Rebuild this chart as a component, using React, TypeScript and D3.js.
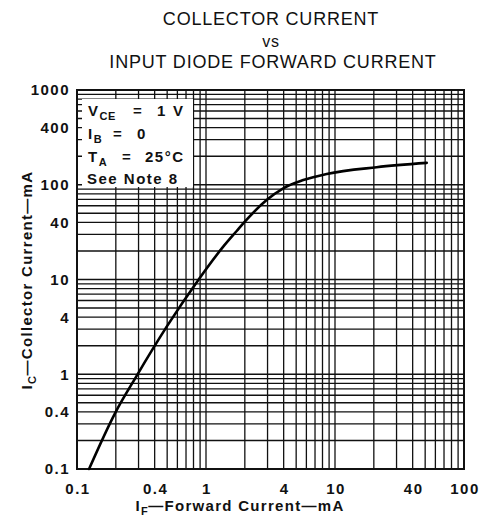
import React from 'react';
import * as d3 from 'd3';

const forwardCurrent = [0.124, 0.197, 0.287, 0.496, 0.872, 1.36, 1.73, 2.0, 2.95, 3.97, 5.68, 8.62, 21, 51.4];
const collectorCurrent = [0.1, 0.387, 0.94, 3.18, 9.9, 22.2, 32.5, 40.8, 69, 91.8, 112, 130, 153, 170];
const xTickLabels = [0.1, 0.4, 1, 4, 10, 40, 100];
const yTickLabels = [0.1, 0.4, 1, 4, 10, 40, 100, 400, 1000];
const titleLines = ['COLLECTOR CURRENT', 'vs', 'INPUT DIODE FORWARD CURRENT'];

function logGrid(min: number, max: number): number[] {
  const out: number[] = [];
  const e0 = Math.round(Math.log10(min));
  const e1 = Math.round(Math.log10(max));
  for (let e = e0; e < e1; e++) {
    for (let k = 1; k <= 9; k++) out.push(+(k * Math.pow(10, e)).toPrecision(6));
  }
  out.push(max);
  return out;
}

const FONT = '"Liberation Sans", Arial, Helvetica, sans-serif';

export default function App() {
  const W = 483, H = 523;
  const x = d3.scaleLog().domain([0.1, 100]).range([77, 464]);
  const y = d3.scaleLog().domain([0.1, 1000]).range([469, 90]);
  const xGrid = logGrid(0.1, 100);
  const yGrid = logGrid(0.1, 1000);
  const data = forwardCurrent.map((f, i) => [f, collectorCurrent[i]] as [number, number]);
  const line = d3.line<[number, number]>()
    .x(d => x(d[0]))
    .y(d => y(d[1]))
    .curve(d3.curveMonotoneX);
  const fmt = (v: number) => String(v);
  const [x0, x1] = x.range();
  const [yb, yt] = y.range();
  const tickStyle = { fontFamily: FONT, fontSize: 15, fontWeight: 700, letterSpacing: 1.5 } as const;
  const sub = { fontSize: 11, letterSpacing: 0.5 } as const;

  return (
    <svg width={W} height={H} viewBox={`0 0 ${W} ${H}`} style={{ position: 'absolute', left: 0, top: 0, background: '#fff' }}>
      <rect x={0} y={0} width={W} height={H} fill="#fff" />
      {/* title */}
      <g fontFamily={FONT} fontSize={18} letterSpacing={0.8} textAnchor="middle" fill="#111">
        <text x={271} y={25}>{titleLines[0]}</text>
        <text x={271} y={47} fontSize={16}>{titleLines[1]}</text>
        <text x={273} y={68}>{titleLines[2]}</text>
      </g>
      {/* grid */}
      <g stroke="#111" strokeWidth={1.3}>
        {xGrid.map((v, i) => (
          <line key={'gx' + i} x1={x(v)} x2={x(v)} y1={yt} y2={yb} />
        ))}
        {yGrid.map((v, i) => (
          <line key={'gy' + i} x1={x0} x2={x1} y1={y(v)} y2={y(v)} />
        ))}
      </g>
      <rect x={x0} y={yt} width={x1 - x0} height={yb - yt} fill="none" stroke="#111" strokeWidth={2} />
      {/* annotation box */}
      <rect x={82} y={99} width={111} height={88} fill="#fff" />
      <g fontFamily={FONT} fontSize={15} fontWeight={700} letterSpacing={1.5} fill="#111">
        <text x={88} y={116}>V<tspan {...sub} dy={4}>CE</tspan></text>
        <text x={133} y={116}>=</text>
        <text x={157} y={116}>1</text>
        <text x={173} y={116}>V</text>
        <text x={88} y={139}>I<tspan {...sub} dy={4}>B</tspan></text>
        <text x={113} y={139}>=</text>
        <text x={137} y={139}>0</text>
        <text x={88} y={162}>T<tspan {...sub} dy={4}>A</tspan></text>
        <text x={122} y={162}>=</text>
        <text x={145} y={162}>25°C</text>
        <text x={87} y={184}>See Note 8</text>
      </g>
      {/* curve */}
      <path d={line(data) || ''} fill="none" stroke="#000" strokeWidth={2.6} strokeLinecap="round" />
      {/* tick labels */}
      <g {...tickStyle} fill="#111" textAnchor="end">
        {yTickLabels.map((v, i) => (
          <text key={'yt' + i} x={70} y={y(v)} dy="0.36em">{fmt(v)}</text>
        ))}
      </g>
      <g {...tickStyle} fill="#111" textAnchor="middle">
        {xTickLabels.map((v, i) => (
          <text key={'xt' + i} x={x(v) + 1} y={494}>{fmt(v)}</text>
        ))}
      </g>
      {/* axis titles */}
      <g fontFamily={FONT} fontSize={15} fontWeight={700} letterSpacing={1.3} fill="#111">
        <text x={240} y={511} textAnchor="middle">I<tspan {...sub} dy={4}>F</tspan><tspan dy={-4}>—Forward Current—mA</tspan></text>
        <text transform="translate(32,280) rotate(-90)" textAnchor="middle">I<tspan {...sub} dy={4}>C</tspan><tspan dy={-4}>—Collector Current—mA</tspan></text>
      </g>
    </svg>
  );
}
